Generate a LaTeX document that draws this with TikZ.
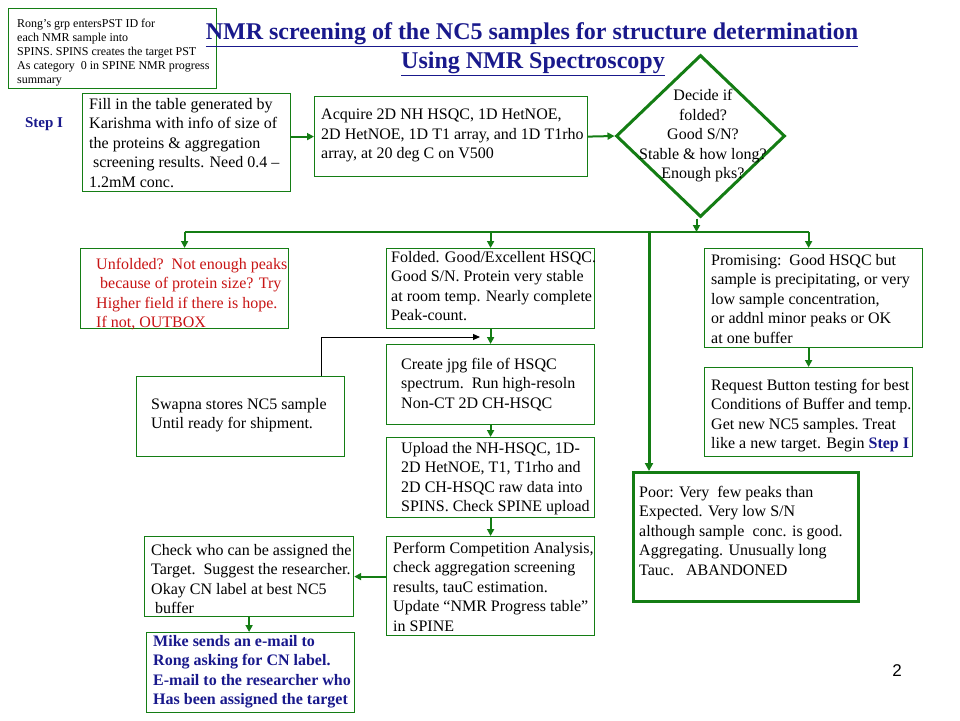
\documentclass[tikz,border=0pt]{standalone}
\usepackage{fontspec}
\setmainfont{Liberation Serif}
\newfontfamily\numfont{Liberation Sans}
\usetikzlibrary{shapes.geometric,arrows.meta}
\definecolor{grn}{RGB}{20,125,20}
\definecolor{navy}{RGB}{25,25,140}
\definecolor{redtxt}{RGB}{200,20,20}
\begin{document}
\begin{tikzpicture}[x=1pt,y=-1pt,
 box/.style={draw=grn,line width=1.2pt,fill=white,rectangle,inner sep=0pt,anchor=north west},
 txt/.style={anchor=north west,align=left,inner sep=0pt,font=\fontsize{16}{19.5}\selectfont},
 arr/.style={draw=grn,line width=2pt,-{Triangle[length=7pt,width=7pt]}},
 blackarr/.style={draw=black,line width=1pt,-{Triangle[length=7pt,width=6pt]}},
 thickline/.style={draw=grn,line width=3pt},
 titlefont/.style={font=\fontsize{24}{28}\selectfont\bfseries,text=navy,inner sep=0pt},
]
\useasboundingbox (0,0) rectangle (960,720);
\fill[white] (0,0) rectangle (960,720);

% top-left note
\node[box,minimum width=208pt,minimum height=80pt] (rong) at (8,8) {};
\node[txt,font=\fontsize{12}{14}\selectfont] (rongT) at (17,19) {Rong's grp entersPST ID for\\each NMR sample into\\SPINS. SPINS creates the target PST\\As category\ \ 0 in SPINE NMR progress\\summary};

% title
\node[titlefont] (title1) at (532,35) {\underline{NMR screening of the NC5 samples for structure determination}};
\node[titlefont] (title2) at (533,64) {\underline{Using NMR Spectroscopy}};

\node[font=\fontsize{15}{17}\selectfont\bfseries,text=navy,inner sep=0pt] (step) at (44,124) {Step I};

% boxes
\node[box,minimum width=208pt,minimum height=98pt] (fill) at (82,93) {};
\node[txt] (fillT) at (89,98) {Fill in the table generated by\\Karishma with info of size of\\the proteins \& aggregation\\\ screening results. Need 0.4 --\\1.2mM conc.};

\node[box,minimum width=273pt,minimum height=80pt] (acq) at (314,96) {};
\node[txt] (acqT) at (321,109) {Acquire 2D NH HSQC, 1D HetNOE,\\2D HetNOE, 1D T1 array, and 1D T1rho\\array, at 20 deg C on V500};

\node[draw=grn,line width=3pt,fill=white,diamond,minimum width=169pt,minimum height=162pt,inner sep=0pt] (dia) at (700.5,136) {};
\node[txt,anchor=north,align=center] (diaT) at (703,89.5) {Decide if\\folded?\\Good S/N?\\Stable \& how long?\\Enough pks?};

\node[box,minimum width=208pt,minimum height=80pt] (unf) at (80,248) {};
\node[txt,text=redtxt] (unfT) at (96,258) {Unfolded?\ \ Not enough peaks\\\ because of protein size? Try\\Higher field if there is hope.\\If not, OUTBOX};

\node[box,minimum width=208pt,minimum height=80pt] (fold) at (386,248) {};
\node[txt] (foldT) at (391,251) {Folded. Good/Excellent HSQC.\\Good S/N. Protein very stable\\at room temp. Nearly complete\\Peak-count.};

\node[box,minimum width=218pt,minimum height=99pt] (prom) at (704,248) {};
\node[txt] (promT) at (711,254) {Promising:\ \ Good HSQC but\\sample is precipitating, or very\\low sample concentration,\\or addnl minor peaks or OK\\at one buffer};

\node[box,minimum width=208pt,minimum height=89pt] (req) at (704,367) {};
\node[txt] (reqT) at (711,379) {Request Button testing for best\\Conditions of Buffer and temp.\\Get new NC5 samples.\ Treat\\like a new target. Begin {\bfseries\color{navy}Step I}};

\node[box,minimum width=208pt,minimum height=80pt] (create) at (386,344) {};
\node[txt] (createT) at (401,358) {Create jpg file of HSQC\\spectrum.\ \ Run high-resoln\\Non-CT 2D CH-HSQC};

\node[box,minimum width=208pt,minimum height=80pt] (swap) at (136,376) {};
\node[txt] (swapT) at (151,398) {Swapna stores NC5 sample\\Until ready for shipment.};

\node[box,minimum width=208pt,minimum height=80pt] (upl) at (386,437) {};
\node[txt] (uplT) at (401,442) {Upload the NH-HSQC, 1D-\\2D HetNOE, T1, T1rho and\\2D CH-HSQC raw data into\\SPINS. Check SPINE upload};

\node[box,minimum width=208pt,minimum height=99pt] (perf) at (386,536) {};
\node[txt] (perfT) at (393,542) {Perform Competition Analysis,\\check aggregation screening\\results, tauC estimation.\\Update ``NMR Progress table''\\in SPINE};

\node[box,minimum width=209pt,minimum height=80pt] (check) at (144,536) {};
\node[txt] (checkT) at (151,544) {Check who can be assigned the\\Target.\ \ Suggest the researcher.\\Okay CN label at best NC5\\\ buffer};

\node[box,minimum width=208pt,minimum height=80pt] (mike) at (146,632) {};
\node[txt,text=navy,font=\fontsize{16}{19.5}\selectfont\bfseries] (mikeT) at (153,635) {Mike sends an e-mail to\\Rong asking for CN label.\\E-mail to the researcher who\\Has been assigned the target};

\node[box,line width=2.5pt,minimum width=225pt,minimum height=129pt] (poor) at (632,471) {};
\node[txt] (poorT) at (639,486) {Poor: Very\ \ few peaks than\\Expected. Very low S/N\\although sample\ \ conc. is good.\\Aggregating. Unusually long\\Tauc.\ \ \ ABANDONED};

\node[font=\numfont\fontsize{17}{20}\selectfont,inner sep=0pt] (pnum) at (897,671) {2};

% connectors
\coordinate (barL) at (unf.north |- 0,232);
\coordinate (barR) at (req.north |- 0,232);
\coordinate (poorTop) at ([xshift=17pt]poor.north west);
\coordinate (swapEnd) at (480,337);

\draw[arr] (fill.east |- acq.west) -- (acq.west);
\draw[arr] (acq.east) -- (dia.west);
\draw[arr] ([xshift=-4pt]dia.south) -- ([xshift=-4pt]dia.south |- barL);
\draw[draw=grn,line width=2pt] (barL) -- (barR);
\draw[arr] (barL) -- (unf.north);
\draw[arr] (fold.north |- barL) -- (fold.north);
\draw[arr] (barR) -- (barR |- prom.north);
\draw[thickline,-{Triangle[length=8pt,width=8pt]}] (poorTop |- barL) -- (poorTop);
\draw[arr] (req.north |- prom.south) -- (req.north);
\draw[arr] (fold.south) -- (create.north);
\draw[arr] (create.south) -- (upl.north);
\draw[arr] (upl.south) -- (perf.north);
\draw[arr] (perf.west |- check.east) -- (check.east);
\draw[arr] (check.south) -- (check.south |- mike.north);
\draw[blackarr] ([xshift=-24pt]swap.north east) |- (swapEnd);
\end{tikzpicture}
\end{document}
